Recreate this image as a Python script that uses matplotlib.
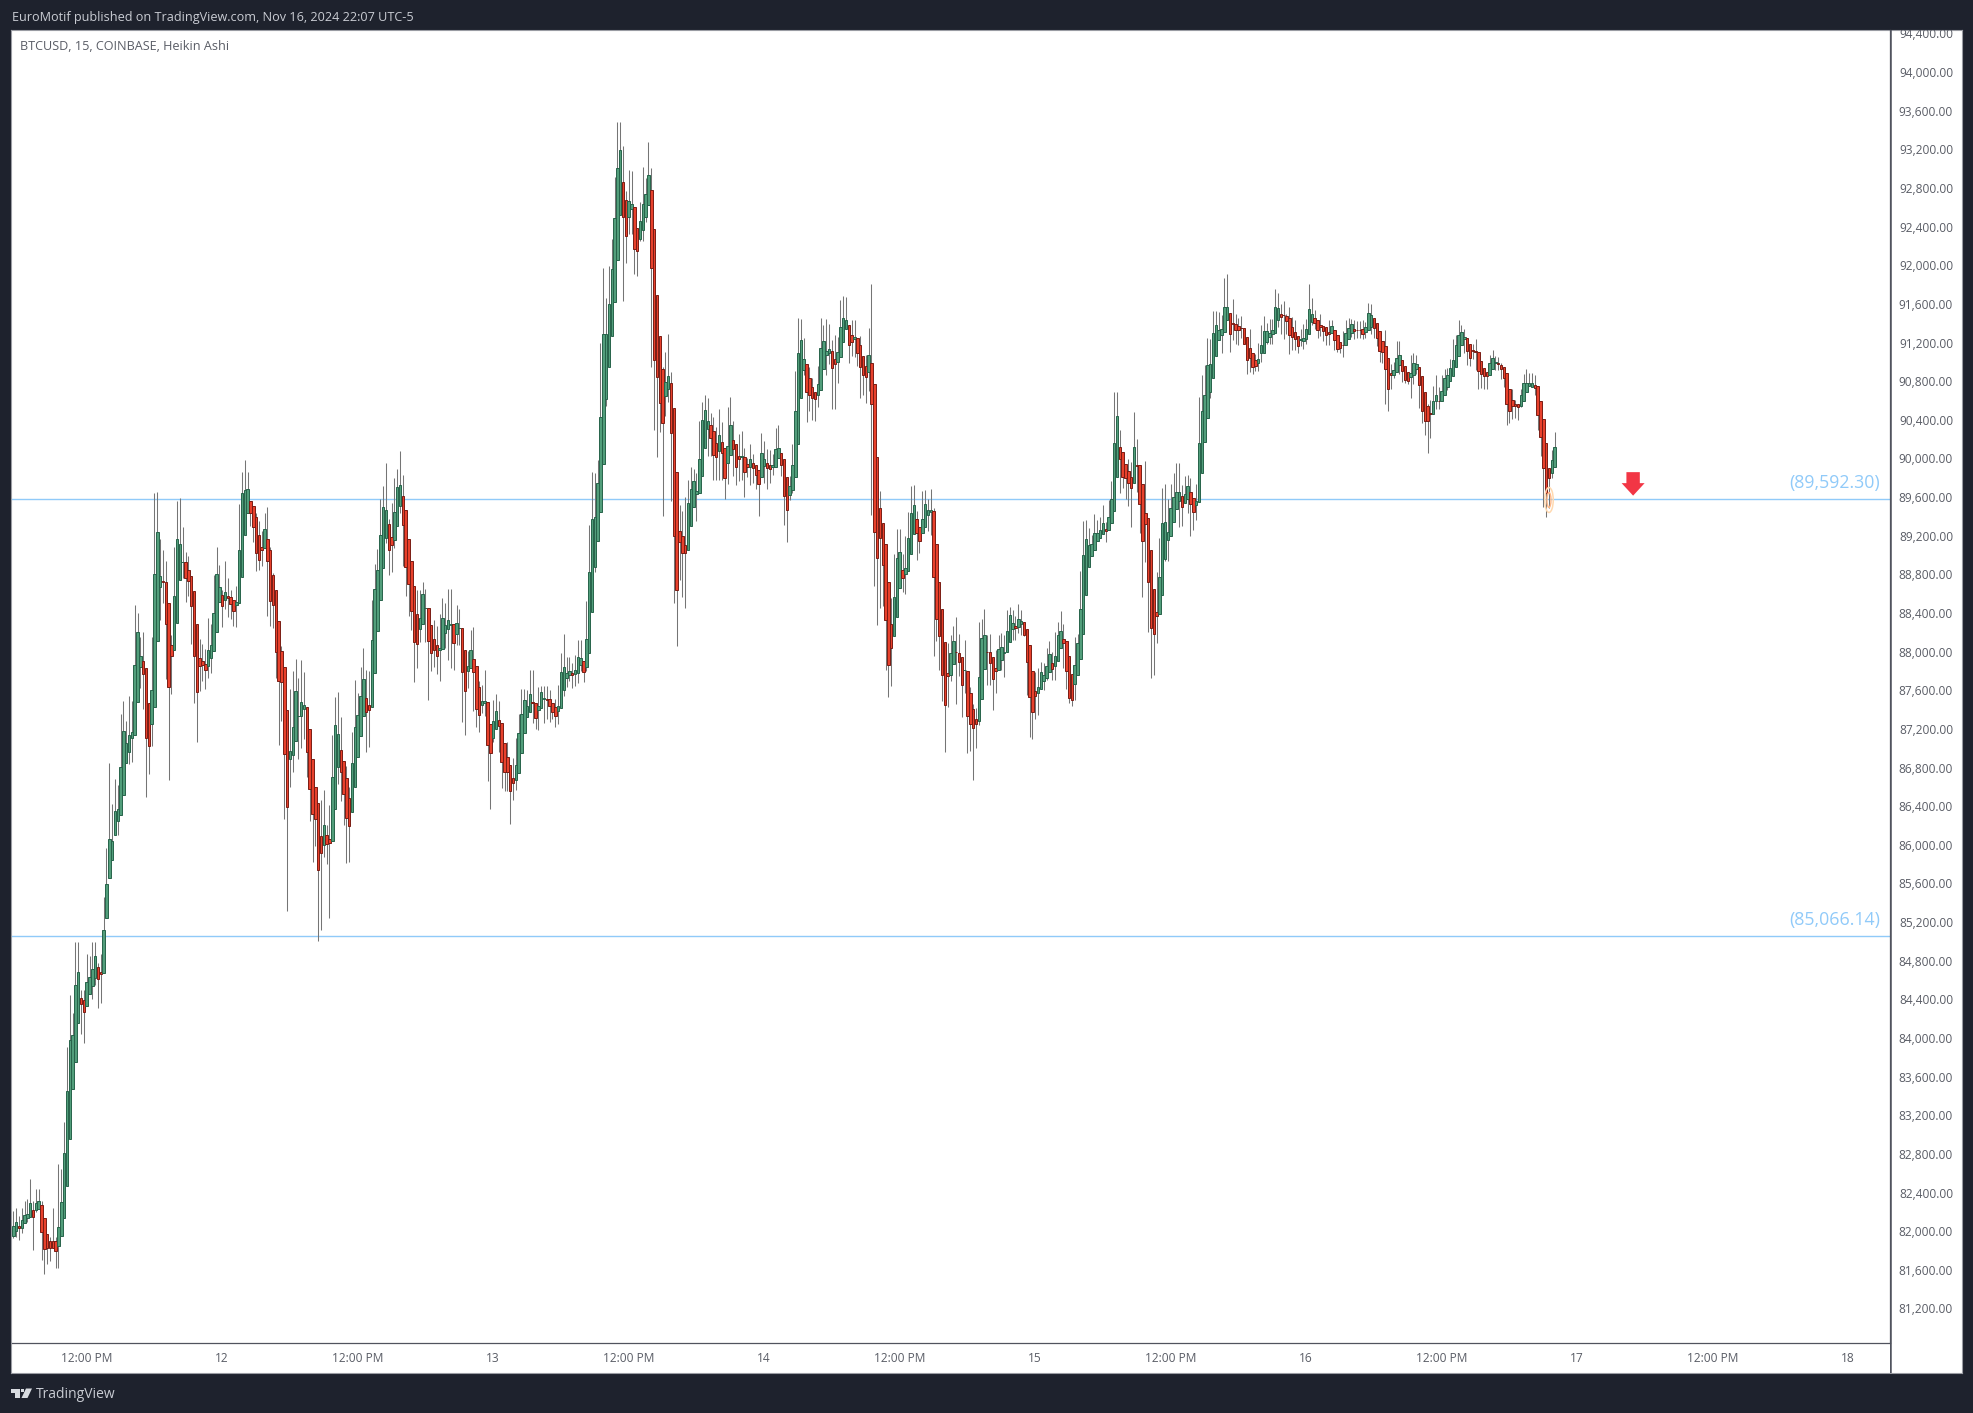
import matplotlib
matplotlib.use("Agg")
import matplotlib.pyplot as plt
from matplotlib.patches import Ellipse, Polygon

plt.rcParams["font.family"] = ["Open Sans", "DejaVu Sans"]

# Heikin Ashi 15 min bars
opens = [
    81970,82020,82070,82051,82099,82147,82163,82238,82238,82249,
    82291,82152,81987,81918,81918,81918,81864,81960,82147,82483,
    82969,83487,83764,84170,84431,84405,84346,84469,84554,84639,
    84746,84700,84688,85253,85670,85862,86112,86257,86326,86534,
    86865,86977,87126,87153,87495,87858,87922,87847,87484,87265,
    87441,88125,88685,88744,88740,88519,88087,88034,88311,88754,
    88941,88941,88856,88797,88642,88301,87948,87916,87890,87863,
    87948,88023,88221,88525,88600,88551,88589,88578,88551,88498,
    88514,88786,89224,89448,89571,89528,89405,89224,89101,89085,
    89181,89069,88807,88652,88332,88022,87857,87412,86906,86944,
    87088,87347,87347,87416,87443,87216,86906,86617,86451,86110,
    86017,86117,86079,86059,86389,86820,86999,86882,86710,86503,
    86358,86613,86927,87144,87350,87536,87460,87443,87795,88228,
    88549,88879,89196,89334,89200,89169,89313,89520,89623,89479,
    89179,88952,88693,88404,88249,88301,88463,88466,88290,88146,
    88080,88032,88042,88208,88246,88294,88301,88197,88256,88259,
    88032,87815,87846,87939,87863,87650,87460,87485,87495,87268,
    87123,87216,87309,87278,87071,86927,86844,86710,86689,86761,
    86968,87175,87340,87386,87490,87484,87406,87431,87525,87525,
    87521,87484,87439,87402,87427,87615,87738,87771,87791,87783,
    87795,87873,87914,87852,87996,88422,88896,89158,89457,89957,
    90628,90960,91287,91631,92069,92540,92876,92687,92511,92593,
    92614,92405,92282,92376,92511,92638,92794,92389,91705,91279,
    90939,90657,90731,90796,90534,89871,89265,89212,89122,89072,
    89314,89511,89642,89654,89830,90125,90317,90358,90301,90178,
    90096,90186,90120,89969,90051,90202,90161,90039,90026,90026,
    89961,89928,89965,89949,89895,89818,89940,89973,89944,89924,
    89928,90022,90071,90006,89822,89637,89685,89820,90161,90636,
    90936,90994,90850,90757,90705,90667,90719,90946,91091,91111,
    91129,91046,91018,91070,91225,91352,91401,91297,91249,91266,
    91194,91080,90977,90915,91008,90791,90026,89499,89345,89128,
    88735,88301,88174,88373,88673,88859,88818,88849,89021,89231,
    89386,89310,89241,89310,89427,89458,89468,89128,88735,88456,
    88115,87795,87771,87888,88015,88001,87957,87822,87815,87588,
    87423,87319,87299,87526,87836,88012,88012,87960,87846,87826,
    87929,88001,88008,88112,88253,88280,88270,88298,88322,88249,
    88084,87815,87609,87588,87623,87709,87743,87809,87898,87871,
    87915,88050,88150,88125,87970,87784,87681,87774,87939,88198,
    88601,88890,89004,89066,89159,89196,89231,89283,89276,89345,
    89469,89820,90130,90078,89954,89882,89820,89758,89944,89944,
    89748,89448,89396,89066,88663,88425,88404,88601,88973,89169,
    89210,89355,89489,89572,89624,89551,89599,89665,89603,89531,
    89562,89861,90181,90429,90708,90853,91080,91246,91297,91328,
    91449,91525,91414,91411,91383,91370,91366,91277,91163,91111,
    91039,91008,91111,91111,91225,91277,91301,91318,91452,91514,
    91504,91490,91473,91380,91328,91287,91242,91232,91256,91308,
    91431,91473,91452,91400,91390,91373,91328,91314,91349,91297,
    91225,91194,91190,91256,91318,91359,91349,91349,91352,91324,
    91349,91376,91473,91421,91338,91235,91183,91059,90904,90877,
    90915,90987,91039,90977,90915,90860,90880,90942,90966,90873,
    90698,90557,90484,90477,90605,90615,90611,90667,90760,90822,
    90873,90966,91077,91190,91256,91266,91204,91135,91125,91121,
    91028,90956,90915,90884,90939,91008,91008,90984,90963,90904,
    90739,90625,90584,90574,90560,90615,90705,90763,90753,90780,
    90770,90615,90419,90171,89912,89868,89930,
]
closes = [
    82070,82110,82045,82126,82179,82195,82302,82158,82302,82329,
    82008,81832,81843,81843,81843,81811,82062,82318,82825,83465,
    83994,84047,84565,84698,84367,84282,84591,84645,84725,84864,
    84623,84680,85130,85605,86070,86059,86369,86390,86817,87196,
    87073,87153,87185,87879,88221,87970,87788,87116,87041,87618,
    88818,89251,88797,88735,88306,87650,87970,88589,89181,89133,
    88946,88776,88744,88487,87970,87601,87863,87874,87826,88034,
    88087,88418,88818,88685,88487,88632,88567,88509,88434,88525,
    89064,89656,89688,89699,89453,89304,89037,88968,89069,89283,
    88952,88535,88494,88011,87708,87702,86958,86407,86985,87237,
    87609,87350,87495,87464,86978,86596,86338,86286,85759,85931,
    86224,86028,86035,86720,87257,87164,86772,86541,86296,86210,
    86865,87237,87361,87557,87733,87392,87412,88135,88662,88859,
    89220,89510,89479,89065,89124,89458,89716,89737,89324,88890,
    88714,88432,88115,88094,88363,88611,88466,88125,88001,88036,
    87970,88053,88363,88290,88342,88301,88104,88311,88259,87805,
    87609,87867,88032,87805,87423,87361,87505,87502,87051,86968,
    87299,87402,87247,86875,86772,86772,86572,86658,86844,87175,
    87371,87516,87454,87578,87480,87324,87451,87594,87533,87517,
    87451,87394,87353,87455,87803,87861,87791,87812,87771,87824,
    87955,87947,87799,88143,88839,89388,89408,89760,90444,91300,
    91300,91615,91975,92503,93019,93207,92511,92323,92679,92651,
    92180,92168,92475,92651,92757,92949,91991,91033,90857,90587,
    90378,90808,90866,90276,89212,88651,89146,89032,89032,89551,
    89695,89781,89674,90010,90411,90514,90399,90223,90051,90026,
    90256,90071,89809,90141,90358,90112,89924,90006,90039,89879,
    89924,90006,89920,89842,89748,90071,90006,89912,89904,89944,
    90112,90120,89949,89625,89478,89728,89944,90502,91111,91246,
    91046,90705,90677,90646,90626,90781,91163,91235,91129,91149,
    90956,90998,91122,91380,91473,91452,91194,91225,91273,91111,
    90967,90874,90863,91084,90584,89252,88983,89190,88911,88342,
    87874,88050,88580,88983,89045,88773,88880,89190,89448,89530,
    89241,89165,89386,89541,89479,89479,88787,88353,88177,87774,
    87464,87760,88001,88125,88008,87908,87671,87829,87350,87268,
    87226,87264,87753,88156,88184,88008,87901,87733,87812,88043,
    88063,88008,88229,88394,88311,88256,88353,88329,88184,87908,
    87547,87388,87557,87650,87805,87777,87867,87994,87833,87967,
    88187,88229,88105,87815,87536,87519,87877,88105,88456,89017,
    89179,89117,89128,89241,89241,89272,89345,89269,89407,89593,
    90171,90450,90013,89820,89809,89765,89706,90130,89940,89541,
    89159,89334,88735,88256,88198,88384,88787,89345,89355,89252,
    89500,89613,89665,89665,89510,89644,89727,89544,89458,89579,
    90171,90502,90677,90987,90998,91318,91401,91349,91359,91587,
    91587,91308,91411,91346,91346,91363,91197,91039,91056,90967,
    90974,91049,91194,91339,91339,91318,91349,91587,91576,91483,
    91501,91442,91297,91270,91256,91184,91249,91266,91359,91566,
    91514,91414,91349,91376,91335,91294,91307,91383,91242,91152,
    91159,91190,91318,91370,91411,91335,91345,91342,91304,91380,
    91524,91504,91366,91263,91128,91118,90942,90736,90880,90935,
    91059,91090,90922,90832,90818,90904,91000,90997,90777,90508,
    90405,90405,90477,90615,90677,90611,90718,90853,90884,90956,
    91039,91194,91297,91328,91276,91128,91052,91128,91118,90922,
    90887,90870,90870,91008,91059,91015,90990,90939,90853,90574,
    90508,90560,90560,90543,90677,90801,90801,90801,90794,90746,
    90460,90233,89912,89661,89816,89995,90129,
]
highs = [
    82220,82259,82174,82259,82323,82350,82558,82323,82451,82451,
    82323,82152,81987,81950,82259,81950,82713,82659,83150,83924,
    84458,84271,85013,85013,84511,84511,84885,84869,85013,85013,
    84789,84885,85472,85984,86860,86433,86700,86635,87372,87500,
    87297,87553,87500,88503,88418,88162,88215,87847,87484,88162,
    89656,89667,89181,89064,88957,88519,88183,89101,89571,89608,
    89309,89048,89010,88797,88642,88301,88141,88098,88044,88359,
    88301,88813,89101,88914,88658,88952,88781,88650,88551,88696,
    89539,89875,90000,89875,89571,89528,89453,89368,89261,89448,
    89517,89100,88828,88652,88332,88070,87857,87412,87633,87819,
    87939,87743,87932,87805,87443,87216,86906,86617,86451,86479,
    86579,86217,86424,87157,87550,87598,87343,86882,86830,86617,
    87188,87726,87591,87860,88056,87829,87819,88552,88924,89079,
    89592,89727,89964,89389,89551,89809,89906,90090,89844,89479,
    89179,88952,88693,88656,88656,88738,88662,88466,88290,88346,
    88277,88408,88569,88518,88662,88662,88301,88501,88459,88259,
    88032,88022,88242,88270,87863,87712,87674,87829,87495,87268,
    87512,87581,87502,87278,87071,87082,86844,86916,87120,87374,
    87633,87633,87615,87828,87828,87484,87648,87660,87660,87660,
    87615,87484,87525,87668,88004,88196,87955,87955,87893,87983,
    88139,88139,87914,88536,89326,89875,89867,90002,91210,91987,
    91680,92008,92290,92929,93502,93502,93248,92782,93003,92990,
    92614,92405,92667,93031,92921,93289,93019,92389,91705,91279,
    90964,91119,91300,90911,90534,89871,89531,89470,89613,89793,
    89928,89908,89867,90399,90604,90673,90645,90485,90444,90342,
    90530,90391,90120,90546,90649,90399,90161,90268,90301,90125,
    90022,90166,90063,89949,89895,90280,90194,90112,90104,90063,
    90329,90358,90071,90006,89822,89838,90164,90918,91473,91463,
    91266,90994,90963,90843,90705,90974,91473,91394,91463,91404,
    91239,91290,91273,91652,91693,91686,91401,91445,91445,91266,
    91280,91080,91084,91363,91824,90791,90026,89679,89345,89128,
    88735,88570,89028,89286,89286,89028,89214,89458,89730,89741,
    89475,89310,89679,89689,89596,89699,89499,89128,88735,88456,
    88115,88105,88191,88284,88370,88201,87957,88139,87815,87647,
    87468,87433,88318,88356,88459,88191,88198,87960,88036,88191,
    88208,88191,88449,88477,88449,88380,88511,88449,88322,88249,
    88084,87815,87802,87846,87912,87898,88053,88122,88012,88218,
    88325,88439,88304,88125,87970,87784,88167,88201,88852,89372,
    89379,89293,89224,89441,89379,89413,89534,89362,89586,89782,
    90701,90701,90305,90078,89954,90006,89982,90491,90216,89944,
    89748,89989,89396,89066,88663,88835,89190,89706,89751,89592,
    89751,89861,89964,89964,89741,89834,89844,89809,89603,89751,
    90653,90874,90980,91266,91256,91538,91538,91531,91497,91886,
    91928,91525,91669,91514,91473,91494,91366,91277,91359,91111,
    91101,91215,91401,91490,91421,91463,91463,91766,91728,91618,
    91642,91514,91583,91480,91452,91287,91359,91411,91463,91817,
    91676,91548,91452,91507,91390,91373,91445,91445,91349,91297,
    91225,91335,91445,91466,91462,91452,91438,91435,91445,91424,
    91624,91617,91473,91421,91338,91235,91342,91059,90997,91015,
    91228,91228,91039,90977,90915,91083,91108,91090,90966,90873,
    90698,90584,90619,90763,90877,90756,90877,90946,90956,91049,
    91249,91290,91445,91400,91359,91266,91204,91204,91256,91121,
    91028,90956,90915,91083,91135,91077,91066,91008,90963,90904,
    90739,90739,90619,90584,90739,90894,90939,90904,90904,90877,
    90770,90615,90419,90171,89912,90102,90288,
]
lows = [
    81940,81950,81928,81992,82099,82110,82163,81822,82216,82249,
    81715,81576,81672,81704,81843,81629,81629,81960,82147,82483,
    82969,83487,83764,84170,84058,83962,84346,84469,84415,84565,
    84330,84373,84688,85253,85670,85862,86112,86112,86326,86534,
    86865,86849,86870,87153,87495,87634,87420,86513,86753,87041,
    87441,88125,88343,88514,87730,86689,87580,88034,88311,88754,
    88781,88525,88594,88098,87484,87084,87607,87714,87623,87740,
    87794,88023,88221,88525,88274,88461,88370,88354,88285,88274,
    88514,88786,89224,89448,89315,89155,88845,88861,88898,89085,
    88381,88277,88259,87743,87044,87295,86286,85332,86613,86768,
    87088,86899,87016,87106,86717,86262,85838,86004,85022,85136,
    85893,85818,85260,86059,86389,86644,86469,86217,85828,85838,
    86358,86613,86927,87144,87350,86975,87030,87443,87795,88228,
    88549,88879,89138,88804,88835,89093,89313,89448,88897,88594,
    88380,88242,87698,87843,88111,88301,88111,87512,87812,87853,
    87781,87708,88042,88053,87932,87850,87829,88080,88080,87285,
    87150,87636,87846,87398,87233,87182,87381,87347,86675,86386,
    87078,87216,86975,86599,86572,86572,86231,86479,86582,86761,
    86968,87175,87340,87386,87279,87210,87206,87431,87279,87320,
    87287,87320,87238,87267,87427,87558,87648,87709,87635,87656,
    87689,87812,87701,87812,87996,88422,88835,89158,89457,89957,
    90563,90960,91287,91631,92069,92540,91648,92037,92339,92339,
    91926,91901,92262,92262,92458,92638,90964,90305,90035,90284,
    89416,90452,90604,89572,88516,88069,88761,88581,88462,89072,
    89314,89511,89363,89654,89830,90125,90043,90043,89797,89789,
    89789,89789,89592,89748,90051,89838,89744,89777,89789,89613,
    89818,89736,89756,89703,89416,89818,89756,89703,89756,89846,
    89928,90022,89838,89326,89146,89580,89661,89820,90161,90636,
    90877,90395,90505,90412,90405,90543,90719,90946,90884,90998,
    90529,90529,90798,91070,91225,91352,91005,91077,91067,90974,
    90643,90670,90591,90715,89431,88690,88287,88466,88484,87822,
    87543,87664,88174,88373,88673,88632,88614,88849,89021,89231,
    88959,89041,89241,89310,89269,89227,87967,88122,87829,87509,
    86975,87443,87709,87888,87468,87760,87337,87588,86968,86985,
    86686,87016,87251,87526,87836,87674,87674,87409,87585,87826,
    87829,87750,88008,88112,88139,88139,88208,88191,88174,87561,
    87127,87106,87313,87364,87623,87616,87726,87809,87726,87726,
    87915,88050,87846,87629,87485,87450,87519,87774,87939,88198,
    88601,88890,89004,89066,89159,89196,89231,89145,89276,89345,
    89469,89820,89655,89706,89592,89524,89310,89758,89672,89248,
    88577,88942,88215,87740,87778,88101,88404,88601,88955,88955,
    89210,89355,89489,89310,89320,89551,89448,89217,89276,89379,
    89562,89861,90181,90429,90646,90853,91080,91246,91108,91328,
    91449,91118,91239,91197,91187,91263,91197,90894,90912,90894,
    90918,90918,91015,91111,91197,91197,91197,91318,91377,91308,
    91256,91308,91101,91135,91135,91108,91177,91149,91197,91308,
    91400,91352,91263,91280,91232,91187,91187,91314,91135,91118,
    91108,91066,91190,91256,91273,91256,91266,91263,91256,91266,
    91349,91307,91263,91183,91015,91008,90577,90508,90736,90853,
    90915,90894,90808,90798,90791,90643,90784,90894,90539,90377,
    90257,90074,90229,90477,90532,90526,90611,90667,90722,90822,
    90873,90966,91077,91190,91108,90980,90970,91049,90928,90732,
    90749,90729,90739,90884,90939,90928,90928,90836,90756,90360,
    90377,90419,90429,90412,90550,90615,90705,90763,90753,90670,
    90309,90040,89510,89406,89499,89809,89930,
]

levels = [89592.30, 85066.14]
price_ticks = list(range(81200, 94401, 400))
time_ticks = [26, 74, 122, 170, 218, 266, 314, 362, 410, 458, 506, 554, 602, 650]
time_labels = ["12:00 PM", "12", "12:00 PM", "13", "12:00 PM", "14", "12:00 PM", "15",
               "12:00 PM", "16", "12:00 PM", "17", "12:00 PM", "18"]
arrow_bar = 573.8
arrow_price = 89630
circle_bar = 544.0
circle_price = 89585

W, H = 1973, 1413
DARK = "#1e222d"
GRID = "#50535e"
TXT = "#5a5d66"
BLUE = "#90caf9"


def box(x0, y0, x1, y1):
    return [x0 / W, 1 - y1 / H, (x1 - x0) / W, (y1 - y0) / H]


fig = plt.figure(figsize=(W / 100, H / 100), dpi=100, facecolor=DARK)

# white frame round everything
frame = fig.add_axes(box(11, 30, 1961.5, 1373))
frame.set_xticks([])
frame.set_yticks([])
for s in frame.spines.values():
    s.set_color("#9a9ca3")
    s.set_linewidth(0.8)

ax = fig.add_axes(box(11.7, 30, 1890, 1343.3))
ax.set_xlim(-0.57, 664.8)
ax.set_ylim(80854, 94451)
ax.set_xticks([])
ax.set_yticks([])
ax.patch.set_alpha(0)
for s in ["top", "left"]:
    ax.spines[s].set_visible(False)
for s in ["bottom", "right"]:
    ax.spines[s].set_color(GRID)
    ax.spines[s].set_linewidth(0.9)

bars = list(range(len(closes)))
for p in levels:
    ax.axhline(p, color=BLUE, lw=1.0, zorder=1)
    ax.annotate(f"({p:,.2f})", xy=(661.2, p), xytext=(0, 11.8), textcoords="offset points",
                ha="right", va="center", fontsize=12.8, color=BLUE, zorder=6)

ax.vlines(bars, lows, highs, color="#757575", lw=0.75, zorder=2)

fills = ["#529e7b" if c >= o else "#e8412c" for o, c in zip(opens, closes)]
edges = ["#27634a" if c >= o else "#7a1c14" for o, c in zip(opens, closes)]
ax.bar(bars, [c - o for o, c in zip(opens, closes)], bottom=opens, width=0.88,
       color=fills, edgecolor=edges, linewidth=0.7, zorder=3)

# red arrow, sizes in pixels
px_x = 1 / 2.823
px_y = 1 / 0.09659
arrow = [(-6.7, 23.5), (6.7, 23.5), (6.7, 12.5), (11.5, 12.5), (0, 0), (-11.5, 12.5), (-6.7, 12.5)]
ax.add_patch(Polygon([(arrow_bar + a * px_x, arrow_price + b * px_y) for a, b in arrow],
                     closed=True, facecolor="#f23645", edgecolor="none", zorder=5))

# faint orange rings on the last low
ax.add_patch(Ellipse((circle_bar, circle_price), 8.5 * px_x, 25 * px_y, fill=False,
                     edgecolor="#ffd9b0", lw=1.1, zorder=5))
ax.add_patch(Ellipse((circle_bar, circle_price), 4 * px_x, 15 * px_y, fill=False,
                     edgecolor="#ffb98a", lw=1.0, zorder=5))

# price scale
pax = fig.add_axes(box(1890, 30, 1961, 1373))
pax.set_xlim(0, 1)
pax.set_ylim(94451 - (1373 - 30) / 0.09659, 94451)
pax.axis("off")
pax.axvline(0, color=GRID, lw=1.8)
for p in price_ticks:
    pax.text(0.507, p, f"{p:,.2f}", ha="center", va="center", fontsize=8.6, color=TXT, clip_on=True)

# time scale
tax = fig.add_axes(box(11.7, 1343.3, 1890, 1373))
tax.set_xlim(-0.57, 664.8)
tax.set_ylim(0, 1)
tax.axis("off")
for t, lab in zip(time_ticks, time_labels):
    tax.text(t, 0.5, lab, ha="center", va="center", fontsize=8.6, color=TXT)

fig.text(11.7 / W, 1 - 17.5 / H, "EuroMotif published on TradingView.com, Nov 16, 2024 22:07 UTC-5",
         ha="left", va="center", fontsize=9.05, color="#c9ccd3")
fig.text(20 / W, 1 - 47 / H, "BTCUSD, 15, COINBASE, Heikin Ashi",
         ha="left", va="center", fontsize=9.1, color=TXT)
fig.text(36 / W, 1 - 1395 / H, "TradingView", ha="left", va="center", fontsize=10.0, color="#c9ccd3")


def to_fig(pts):
    return [(x / W, 1 - y / H) for x, y in pts]


# logo
LOGO = "#d8dbe0"
fig.add_artist(Polygon(to_fig([(11, 1388.5), (20, 1388.5), (20, 1398), (15.5, 1398), (15.5, 1392.5), (11, 1392.5)]),
                       closed=True, transform=fig.transFigure, facecolor=LOGO, edgecolor="none"))
fig.add_artist(Polygon(to_fig([(26, 1388.5), (32, 1388.5), (27.5, 1398), (21.5, 1398)]),
                       closed=True, transform=fig.transFigure, facecolor=LOGO, edgecolor="none"))
fig.add_artist(Polygon(to_fig([(21, 1388.5), (24, 1388.5), (24, 1391.5), (21, 1391.5)]),
                       closed=True, transform=fig.transFigure, facecolor=LOGO, edgecolor="none"))

fig.savefig("out.png", dpi=100, facecolor=DARK)
